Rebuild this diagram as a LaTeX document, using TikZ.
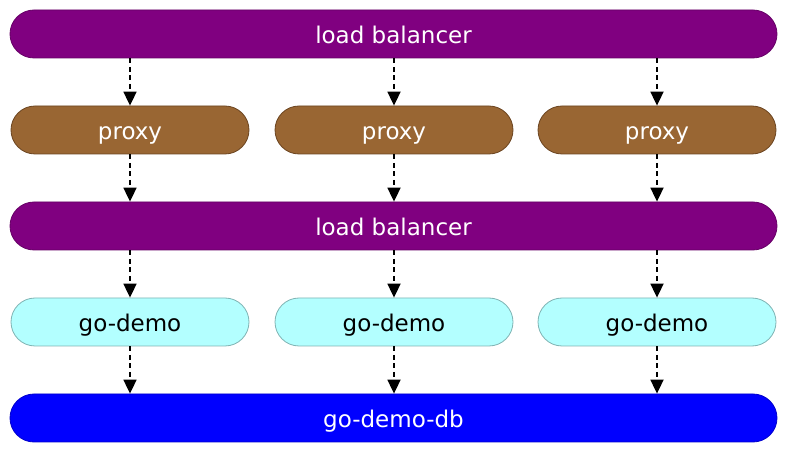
\documentclass[tikz,border=0pt]{standalone}
\usepackage{fontspec}
\setmainfont{DejaVu Sans}
\usetikzlibrary{arrows.meta}
\definecolor{lbpurple}{HTML}{800080}
\definecolor{proxybrown}{HTML}{996633}
\definecolor{proxyborder}{HTML}{6B4420}
\definecolor{democyan}{HTML}{B3FFFF}
\definecolor{demoborder}{HTML}{7FB3B3}
\definecolor{dbblue}{HTML}{0000FF}
\begin{document}
\begin{tikzpicture}[x=1pt,y=-1pt,
  pill/.style={rounded corners=24pt,minimum height=48pt,inner sep=0pt,font=\fontsize{23}{26}\selectfont,text height=23pt,text depth=4.4pt,line width=0.8pt},
  wide/.style={pill,minimum width=767pt},
  narrow/.style={pill,minimum width=238pt},
  lb/.style={wide,fill=lbpurple,draw=lbpurple!80!black,text=white},
  proxybox/.style={narrow,fill=proxybrown,draw=proxyborder,text=white},
  demobox/.style={narrow,fill=democyan,draw=demoborder,text=black},
  dbbox/.style={wide,fill=dbblue,draw=dbblue!80!black,text=white},
  conn/.style={draw=black,line width=1.8pt,dash pattern=on 5pt off 3.5pt,-{Triangle[length=14pt,width=13pt]}}
]
\useasboundingbox (0,0) rectangle (788,454);
\node[lb] (lb1) at (393.5,34) {load balancer};
\node[proxybox] (p1) at (130,130) {proxy};
\node[proxybox] (p2) at (394,130) {proxy};
\node[proxybox] (p3) at (657,130) {proxy};
\node[lb] (lb2) at (393.5,226) {load balancer};
\node[demobox] (d1) at (130,322) {go-demo};
\node[demobox] (d2) at (394,322) {go-demo};
\node[demobox] (d3) at (657,322) {go-demo};
\node[dbbox] (db) at (393.5,418) {go-demo-db};
\foreach \i in {1,2,3}{
  \draw[conn] (lb1.south -| p\i.north) -- (p\i.north);
  \draw[conn] (p\i.south) -- (lb2.north -| p\i.south);
  \draw[conn] (lb2.south -| d\i.north) -- (d\i.north);
  \draw[conn] (d\i.south) -- (db.north -| d\i.south);
}
\end{tikzpicture}
\end{document}
